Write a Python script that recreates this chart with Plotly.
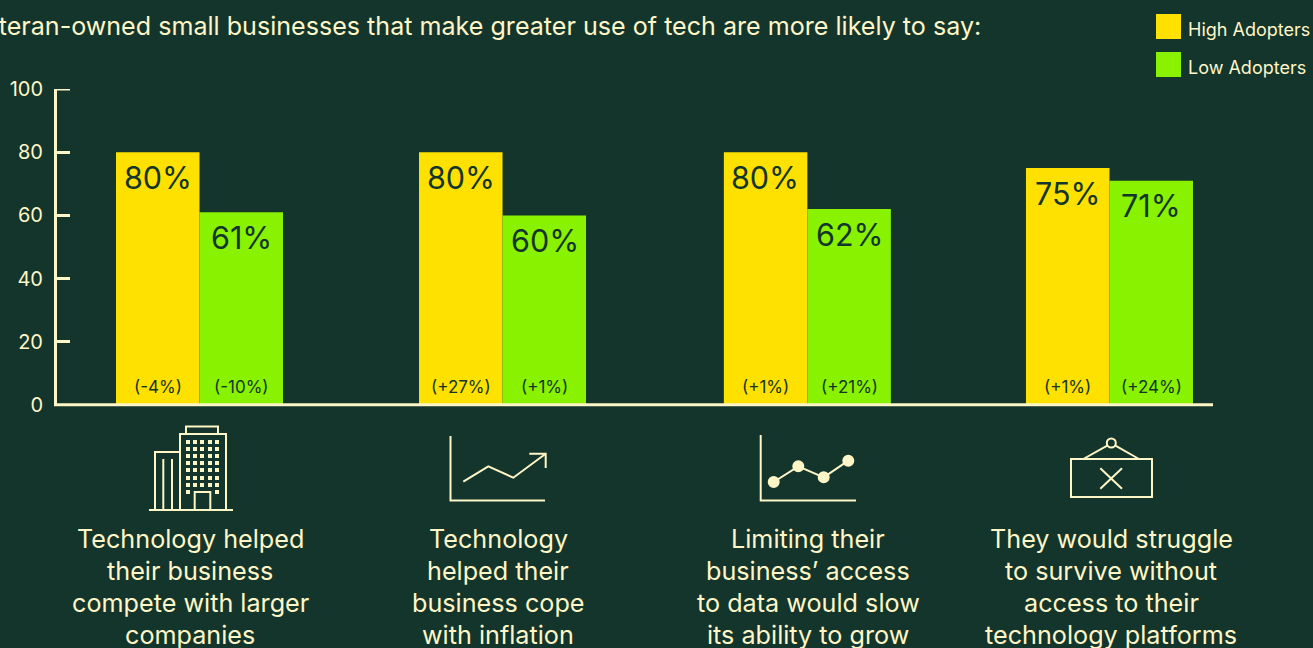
# plot.py
import plotly.graph_objects as go

# datos
categorias = [
    "Technology helped<br>their business<br>compete with larger<br>companies",
    "Technology<br>helped their<br>business cope<br>with inflation",
    "Limiting their<br>business’ access<br>to data would slow<br>its ability to grow",
    "They would struggle<br>to survive without<br>access to their<br>technology platforms",
]
high_adopters = [80, 80, 80, 75]
low_adopters = [61, 60, 62, 71]
high_cambio = ["(-4%)", "(+27%)", "(+1%)", "(+1%)"]
low_cambio = ["(-10%)", "(+1%)", "(+21%)", "(+24%)"]
y_ticks = [0, 20, 40, 60, 80, 100]
titulo = "Veteran-owned small businesses that make greater use of tech are more likely to say:"

# layout
W, H = 1313, 648
L, T, R, B = 57, 89, 1213, 405
FONDO = "#13352B"
CREMA = "#FFF6C8"
AMARILLO = "#FFE100"
VERDE = "#88F200"
FUENTE = "Inter"
grupo_x = [0, 0.999, 2.004, 3]
texto_x = [190, 498, 808, 1111]
ANCHO = 0.2753


def px(x):
    return (x - L) / (R - L)


def py(y):
    return (B - y) / (B - T)


def linea(puntos, ancho=2):
    d = "M" + " L".join(f"{px(x):.5f},{py(y):.5f}" for x, y in puntos)
    return dict(type="path", xref="paper", yref="paper", path=d,
                line=dict(color=CREMA, width=ancho), layer="above")


def rect(x0, y0, x1, y1, color=None, ancho=2):
    return dict(type="rect", xref="paper", yref="paper",
                x0=px(x0), x1=px(x1), y0=py(y0), y1=py(y1),
                fillcolor=color if color else "rgba(0,0,0,0)",
                line=dict(color=CREMA, width=ancho) if not color else dict(width=0),
                layer="above")


def circulo(cx, cy, r, relleno=True):
    return dict(type="circle", xref="paper", yref="paper",
                x0=px(cx - r), x1=px(cx + r), y0=py(cy - r), y1=py(cy + r),
                fillcolor=CREMA if relleno else "rgba(0,0,0,0)",
                line=dict(color=CREMA, width=2), layer="above")


def texto(x, y, s, size, color=CREMA, xanchor="center"):
    return dict(x=px(x), y=py(y), xref="paper", yref="paper", text=s, showarrow=False,
                xanchor=xanchor, yanchor="middle", align="center",
                font=dict(family=FUENTE, size=size, color=color))


fig = go.Figure()
fig.add_trace(go.Bar(x=grupo_x, y=high_adopters, name="High Adopters", width=ANCHO,
                     offset=-ANCHO, marker=dict(color=AMARILLO, line=dict(width=0))))
fig.add_trace(go.Bar(x=grupo_x, y=low_adopters, name="Low Adopters", width=ANCHO,
                     offset=0, marker=dict(color=VERDE, line=dict(width=0))))

anotaciones = []
for i, gx in enumerate(grupo_x):
    for valor, cambio, shift in [(high_adopters[i], high_cambio[i], -42),
                                 (low_adopters[i], low_cambio[i], 42)]:
        anotaciones.append(dict(x=gx, y=valor, xref="x", yref="y", text=f"{valor}%",
                                xshift=shift, yshift=-25, showarrow=False, yanchor="middle",
                                font=dict(family=FUENTE, size=30.5, color=FONDO)))
        anotaciones.append(dict(x=gx, y=0, xref="x", yref="y", text=cambio,
                                xshift=shift, yshift=18, showarrow=False, yanchor="middle",
                                font=dict(family=FUENTE, size=17, color=FONDO)))
    # cada renglon por separado para clavar el interlineado
    for j, renglon in enumerate(categorias[i].split("<br>")):
        anotaciones.append(texto(texto_x[i], 538.5 + 32 * j, renglon, 25.2))

anotaciones.append(texto(983, 26, titulo, 25.1, xanchor="right"))
anotaciones.append(texto(1186, 29, "High Adopters", 18, xanchor="left"))
anotaciones.append(texto(1186, 67, "Low Adopters", 18, xanchor="left"))

formas = [rect(1156, 14, 1181, 39, AMARILLO), rect(1156, 52, 1181, 77, VERDE)]

# eje x sobre la base de las barras, y tick superior que plotly recorta
formas.append(dict(type="line", xref="paper", yref="paper", x0=px(54), x1=1,
                   y0=py(404.7), y1=py(404.7), line=dict(color=CREMA, width=3), layer="above"))
formas.append(dict(type="line", xref="paper", yref="y", x0=px(54), x1=px(70), y0=100, y1=100,
                   line=dict(color=CREMA, width=3)))

# icono edificio
formas += [
    linea([(149, 510), (233, 510)]),
    rect(180, 434, 226, 510),
    rect(186, 426.5, 218, 434),
    linea([(180, 452), (155, 452), (155, 510)]),
    linea([(163.3, 459), (163.3, 510)]),
    linea([(172, 459), (172, 510)]),
    rect(194.7, 492, 210.3, 510),
]
ventanas_x = [188, 195, 202, 210, 217]
ventanas_y = [442, 449, 456, 463, 470, 478, 485, 492]
for vy in ventanas_y:
    for vx in ventanas_x:
        if vy == 492 and vx not in (188, 217):
            continue
        formas.append(rect(vx - 2, vy - 2, vx + 2, vy + 2, CREMA))

# icono flecha
formas += [
    linea([(450.5, 436), (450.5, 500.5), (545, 500.5)]),
    linea([(463.3, 481.7), (488.3, 466.3), (513.3, 477.7), (545, 454.3)]),
    linea([(529.3, 453.7), (545.7, 453.7), (545.7, 468)]),
]

# icono puntos
puntos = [(773.7, 482), (798.3, 466.3), (823.7, 477.3), (848.3, 460.7)]
formas += [linea([(760.7, 435), (760.7, 500.5), (856, 500.5)]), linea(puntos)]
formas += [circulo(x, y, 5) for x, y in puntos]

# icono letrero
formas += [
    rect(1071, 459, 1152, 497),
    linea([(1100.3, 468.3), (1122, 488.7)]),
    linea([(1122, 468.3), (1100.3, 488.7)]),
    linea([(1083.3, 459), (1107.7, 445.3)]),
    linea([(1115, 445.3), (1139, 459)]),
    circulo(1111.3, 443, 4.5, relleno=False),
]

fig.update_layout(
    width=W, height=H, autosize=False,
    margin=dict(l=L, r=W - R, t=T, b=H - B, pad=0),
    paper_bgcolor=FONDO, plot_bgcolor=FONDO,
    barmode="overlay", showlegend=False,
    annotations=anotaciones, shapes=formas,
    xaxis=dict(range=[-0.4698, 3.3413], showticklabels=False, ticks="", showgrid=False,
               zeroline=False, showline=False, automargin=False),
    yaxis=dict(range=[0, 100], tickvals=y_ticks, ticks="inside", ticklen=13, tickwidth=3,
               tickcolor=CREMA, showgrid=False, zeroline=False, showline=True,
               linecolor=CREMA, linewidth=3, ticklabelstandoff=7, automargin=False,
               tickfont=dict(family=FUENTE, size=20, color=CREMA)),
)

fig.write_html("out.html", config={"displayModeBar": False},
               post_script="document.body.style.margin='0';")
